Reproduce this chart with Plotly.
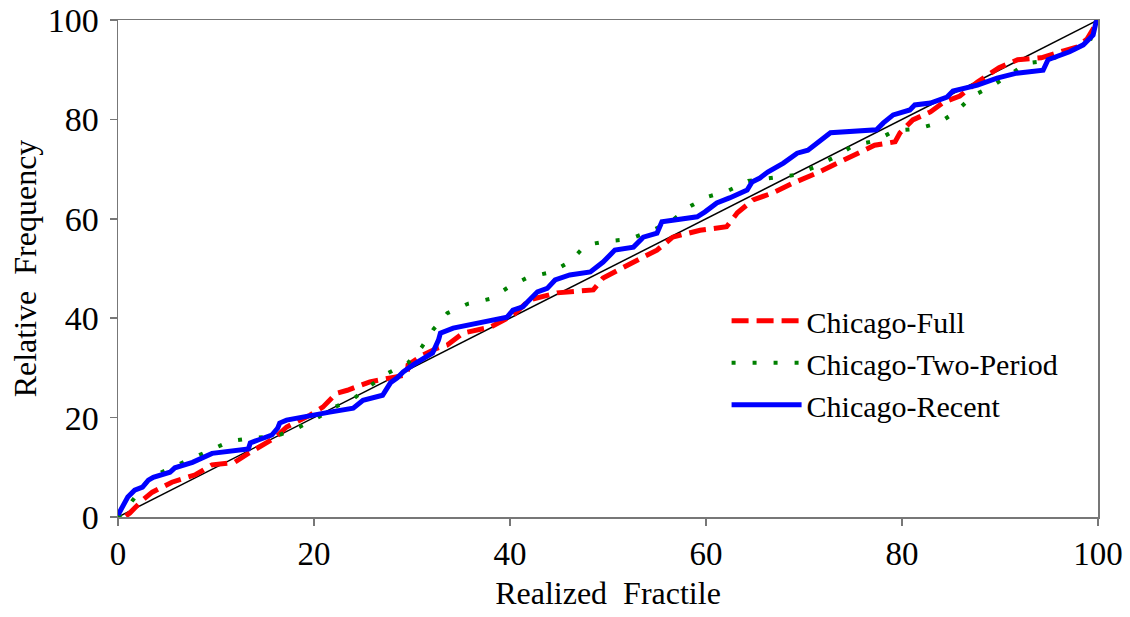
import plotly.graph_objects as go

# Diagonal reference
diag_x = [0, 100]
diag_y = [0, 100]

# Chicago-Full (red dashed)
full_x = [0.8, 1.2, 2.5, 3.5, 5.5, 7.9, 9.6, 11.9, 13.3, 14.7, 16.0, 17.2, 19.6, 20.9, 22.3, 23.4, 25.7, 27.8,
          29.5, 29.6, 31.1, 32.6, 33.6, 35.2, 38.0, 40.3, 42.0, 44.8, 48.5, 49.5, 51.9, 53.6, 55.0, 56.6, 59.4,
          62.1, 63.2, 64.8, 66.8, 68.9, 71.3, 73.7, 77.2, 79.3, 79.8, 81.1, 82.9, 84.2, 85.9, 87.7, 89.9, 91.8,
          94.2, 96.5, 97.9, 98.9, 99.6]
full_y = [0.2, 0.8, 3.4, 5.0, 7.0, 8.5, 10.5, 11.0, 12.8, 14.5, 15.9, 18.1, 20.5, 22.1, 24.9, 25.5, 27.2, 28.0,
          28.6, 30.6, 32.6, 34.0, 34.6, 37.0, 38.2, 40.6, 43.7, 45.1, 45.7, 48.1, 50.7, 52.3, 53.7, 56.3, 57.7,
          58.4, 61.2, 63.8, 65.2, 67.2, 69.2, 71.4, 74.8, 75.5, 77.3, 79.9, 81.5, 83.4, 84.7, 87.5, 90.4, 92.0,
          92.4, 93.8, 94.6, 96.2, 98.5]

# Chicago-Two-Period (green dotted)
two_x = [0, 0.5, 3.3, 9.4, 11.5, 13.8, 16.2, 18.3, 20.3, 22.1, 24.1, 25.7, 27.6, 29.6, 31.0, 32.2, 33.6, 35.7,
         38.0, 39.9, 41.9, 44.3, 46.2, 47.7, 49.9, 52.2, 54.3, 56.4, 58.1, 60.1, 62.2, 64.3, 66.6, 69.0, 71.1,
         73.1, 75.1, 77.3, 79.2, 81.5, 83.8, 85.6, 87.2, 89.2, 91.0, 92.7, 94.9, 97.0, 99.1, 100]
two_y = [0, 0.8, 8.0, 13.3, 15.3, 15.9, 16.3, 17.9, 19.9, 22.1, 23.9, 26.4, 29.0, 31.0, 34.2, 37.8, 41.0, 42.9,
         43.9, 46.3, 48.3, 49.3, 51.5, 54.7, 55.5, 55.9, 57.5, 59.4, 62.2, 64.4, 65.6, 67.6, 68.2, 68.8, 70.4,
         72.4, 74.8, 75.7, 77.7, 78.1, 79.3, 81.7, 84.7, 86.7, 89.0, 91.3, 91.8, 93.5, 95.4, 100]

# Chicago-Recent (blue solid)
rec_x = [0, 0.3, 1.0, 1.7, 2.5, 3.1, 3.6, 5.3, 5.8, 7.6, 9.6, 13.3, 13.5, 14.3, 15.7, 16.3, 16.5, 17.2, 19.6,
         21.6, 24.0, 25.0, 27.0, 27.8, 28.5, 29.1, 30.1, 32.1, 32.7, 32.9, 34.2, 38.7, 39.7, 40.3, 41.3, 42.8,
         43.8, 44.6, 46.1, 48.2, 49.2, 49.5, 50.7, 52.6, 53.6, 55.0, 55.5, 59.1, 59.9, 61.1, 62.4, 64.2, 64.7,
         65.5, 66.3, 67.9, 69.3, 70.4, 72.7, 77.4, 78.1, 79.1, 80.8, 81.3, 82.9, 84.6, 85.2, 87.7, 89.7, 91.7,
         94.4, 94.9, 97.1, 98.5, 99.5, 99.8, 100]
rec_y = [0.4, 1.5, 4.0, 5.4, 6.0, 7.4, 8.0, 9.0, 9.9, 11.0, 12.8, 13.7, 14.9, 15.5, 16.5, 17.9, 18.9, 19.5, 20.5,
         21.1, 21.9, 23.5, 24.5, 27.0, 28.0, 29.2, 30.6, 33.0, 35.6, 37.0, 38.0, 39.6, 40.2, 41.6, 42.3, 45.3,
         46.0, 47.7, 48.7, 49.3, 50.7, 51.3, 53.7, 54.3, 56.3, 57.1, 59.4, 60.4, 61.4, 63.2, 64.2, 65.8, 67.4,
         68.2, 69.4, 71.2, 73.2, 73.8, 77.3, 77.9, 79.3, 80.9, 81.9, 82.9, 83.3, 84.5, 85.7, 86.9, 88.3, 89.3,
         89.9, 92.0, 93.6, 95.0, 97.0, 99.6, 100]

x_ticks = [0, 20, 40, 60, 80, 100]
y_ticks = [0, 20, 40, 60, 80, 100]

FONT = "Liberation Serif, Times New Roman, serif"

fig = go.Figure()
fig.add_trace(go.Scatter(x=diag_x, y=diag_y, mode="lines", line=dict(color="black", width=1.5),
                         showlegend=False, hoverinfo="skip"))
fig.add_trace(go.Scatter(x=full_x, y=full_y, mode="lines", name="Chicago-Full",
                         line=dict(color="#ff0000", width=5, dash="17px,8px")))
fig.add_trace(go.Scatter(x=two_x, y=two_y, mode="lines", name="Chicago-Two-Period",
                         line=dict(color="#008000", width=4, dash="4px,17px")))
fig.add_trace(go.Scatter(x=rec_x, y=rec_y, mode="lines", name="Chicago-Recent",
                         line=dict(color="#0000ff", width=5)))

axis_common = dict(
    range=[0, 100], showgrid=False, zeroline=False, automargin=False,
    showline=True, linecolor="#777777", linewidth=1.5, mirror=True,
    ticks="outside", ticklen=7, tickcolor="#777777", tickwidth=1.5,
    ticklabeloverflow="allow",
)

fig.update_layout(
    width=1130, height=617,
    margin=dict(l=118, r=32, t=20, b=100),
    paper_bgcolor="white", plot_bgcolor="white",
    font=dict(family=FONT, color="black"),
    hovermode=False,
    xaxis=dict(**axis_common, tickvals=x_ticks,
               tickfont=dict(family=FONT, size=33, color="black"),
               title=dict(text="Realized\u00a0 Fractile", font=dict(family=FONT, size=32), standoff=10)),
    yaxis=dict(**axis_common, tickvals=y_ticks, ticklabelstandoff=4,
               tickfont=dict(family=FONT, size=34, color="black"),
               title=dict(text="Relative\u00a0 Frequency", font=dict(family=FONT, size=32), standoff=1)),
    legend=dict(x=0.621, y=0.447, xanchor="left", yanchor="top",
                font=dict(family=FONT, size=30, color="black"),
                bgcolor="rgba(0,0,0,0)", itemwidth=70, tracegroupgap=0),
)

# Remove the page's default 8px body margin so the figure fills the window exactly.
fig.write_html("out.html",
               config={"displayModeBar": False, "staticPlot": True},
               post_script="document.body.style.margin='0';document.body.style.overflow='hidden';")
